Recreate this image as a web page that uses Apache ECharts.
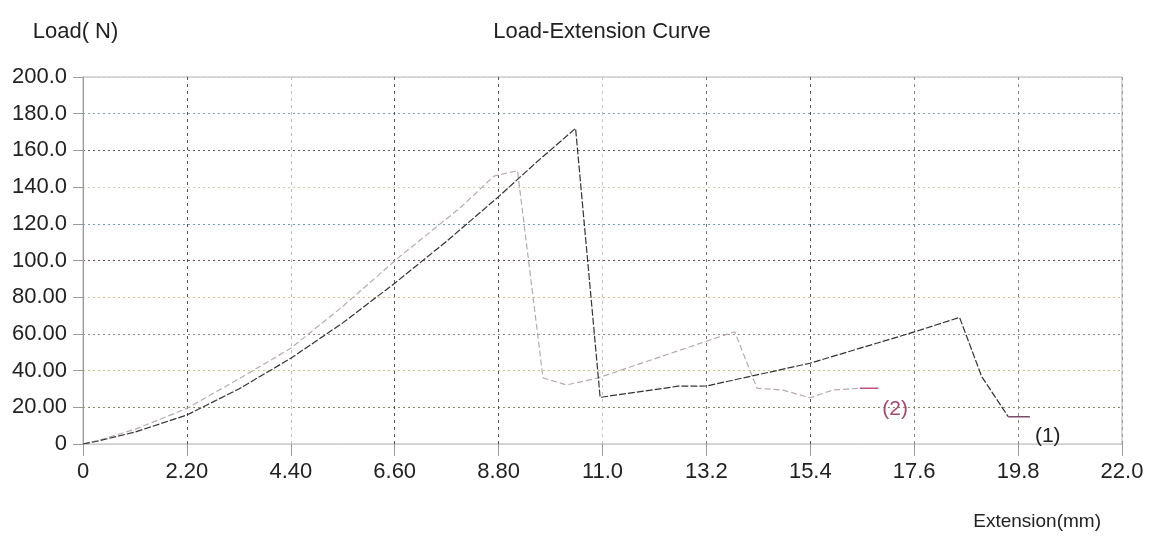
<!DOCTYPE html>
<html>
<head>
<meta charset="utf-8">
<title>Load-Extension Curve</title>
<script src="https://cdn.jsdelivr.net/npm/echarts@6/dist/echarts.min.js"></script>
<style>
  html, body { margin: 0; padding: 0; background: #ffffff; }
  #chart { width: 1151px; height: 541px; }
</style>
</head>
<body>
<div id="chart"></div>
<script>
// Specimen (1): extension (mm) and load (N)
const ext1  = [0, 0.3, 1.1, 2.2, 3.3, 4.4, 5.5, 6.6, 7.7, 8.8, 9.6, 10.43, 10.95, 12.6, 13.2, 15.39, 17.62, 18.56, 19.03, 19.59, 20.05];
const load1 = [0, 1.5, 6.5, 15.8, 30.0, 46.7, 66.0, 87.6, 110.5, 134.8, 153.5, 172.0, 25.4, 31.5, 31.6, 44.0, 61.2, 69.0, 36.7, 14.9, 14.9];

// Specimen (2): extension (mm) and load (N)
const ext2  = [0, 0.3, 1.1, 2.2, 3.3, 4.4, 5.5, 6.7, 8.0, 8.7, 9.2, 9.74, 10.24, 10.88, 13.8, 14.27, 14.82, 15.39, 15.88, 16.45, 16.84];
const load2 = [0, 1.8, 8.0, 19.4, 35.5, 52.2, 75.0, 102.0, 129.0, 146.0, 149.0, 36.0, 32.2, 35.8, 61.2, 30.4, 29.4, 25.2, 29.4, 30.4, 30.4];

// Axis tick labels
const xTickLabels = ['0', '2.20', '4.40', '6.60', '8.80', '11.0', '13.2', '15.4', '17.6', '19.8', '22.0'];
const yTickLabels = ['0', '20.00', '40.00', '60.00', '80.00', '100.0', '120.0', '140.0', '160.0', '180.0', '200.0'];
const curveNames  = ['(1)', '(2)'];

const FONT = "'Liberation Sans', Arial, sans-serif";
const TEXT = '#222222';
const FS = 22;

const pairs = (xs, ys) => xs.map((x, i) => [x, ys[i]]);
const s1 = pairs(ext1, load1);
const s2 = pairs(ext2, load2);

const chart = echarts.init(document.getElementById('chart'), null, { renderer: 'canvas' });

chart.setOption({
  animation: false,
  backgroundColor: '#ffffff',
  textStyle: { fontFamily: FONT },
  graphic: [
    {
      type: 'text',
      x: 602, y: 32,
      silent: true,
      style: {
        text: 'Load-Extension Curve',
        fill: TEXT,
        font: FS + 'px ' + FONT,
        textAlign: 'center',
        textVerticalAlign: 'middle'
      }
    },
    {
      type: 'text',
      x: 1101, y: 522,
      silent: true,
      style: {
        text: 'Extension(mm)',
        fill: TEXT,
        font: '19px ' + FONT,
        textAlign: 'right',
        textVerticalAlign: 'middle'
      }
    }
  ],
  grid: {
    left: 83, top: 77, right: 29, bottom: 97,
    show: true,
    borderColor: '#b4b4b4',
    borderWidth: 1,
    backgroundColor: 'transparent'
  },
  xAxis: {
    type: 'value',
    min: 0, max: 22, interval: 2.2,
    axisLine: { show: true, lineStyle: { color: '#cfcfcf', width: 1 } },
    axisTick: { show: true, length: 12, lineStyle: { color: '#9a9a9a' } },
    axisLabel: {
      margin: 17,
      fontFamily: FONT, fontSize: FS, color: TEXT,
      formatter: v => xTickLabels[Math.round(v / 2.2)]
    },
    splitLine: {
      show: true,
      lineStyle: {
        type: [3, 4], width: 1,
        color: ['#999999', '#555555', '#bdbdbd', '#555555', '#555555', '#c4c4c4',
                '#777777', '#555555', '#888888', '#888888', '#999999']
      }
    }
  },
  yAxis: {
    type: 'value',
    min: 0, max: 200, interval: 20,
    name: 'Load( N)',
    nameLocation: 'end',
    nameGap: 45,
    nameTextStyle: {
      fontFamily: FONT, fontSize: FS, color: TEXT,
      align: 'center', verticalAlign: 'middle',
      padding: [0, 15, 0, 0]
    },
    axisLine: { show: true, lineStyle: { color: '#9a9a9a', width: 1 } },
    axisTick: { show: true, length: 10, lineStyle: { color: '#9a9a9a' } },
    axisLabel: {
      margin: 16,
      fontFamily: FONT, fontSize: FS, color: TEXT,
      formatter: v => yTickLabels[Math.round(v / 20)]
    },
    splitLine: {
      show: true,
      lineStyle: {
        type: [2, 3], width: 1,
        color: ['#d0d0d0', '#8c8a62', '#c9c27a', '#8a8a8a', '#cfc58a', '#6d5266',
                '#6e9ea6', '#cfcdb8', '#5e5e5e', '#7fa9ae', '#cccccc']
      }
    }
  },
  series: [
    {
      name: 'Specimen 2',
      type: 'line',
      data: s2.slice(0, -1),
      showSymbol: false,
      smooth: false,
      lineStyle: { color: '#b7a9b0', width: 1.2, type: [6, 3] },
      z: 3
    },
    {
      name: 'Specimen 1',
      type: 'line',
      data: s1.slice(0, -1),
      showSymbol: false,
      smooth: false,
      lineStyle: { color: '#333333', width: 1.2, type: [7, 2] },
      z: 4
    },
    {
      name: 'Specimen 2 end',
      type: 'line',
      data: s2.slice(-2),
      showSymbol: false,
      lineStyle: { color: '#c0508a', width: 1.5 },
      endLabel: {
        show: true, formatter: curveNames[1],
        fontFamily: FONT, fontSize: 21, color: '#a8486c',
        offset: [-4, 21]
      },
      z: 5
    },
    {
      name: 'Specimen 1 end',
      type: 'line',
      data: s1.slice(-2),
      showSymbol: false,
      lineStyle: { color: '#7a4a6a', width: 1.5 },
      endLabel: {
        show: true, formatter: curveNames[0],
        fontFamily: FONT, fontSize: 21, color: TEXT,
        offset: [-3, 20]
      },
      z: 5
    }
  ]
});
</script>
</body>
</html>
